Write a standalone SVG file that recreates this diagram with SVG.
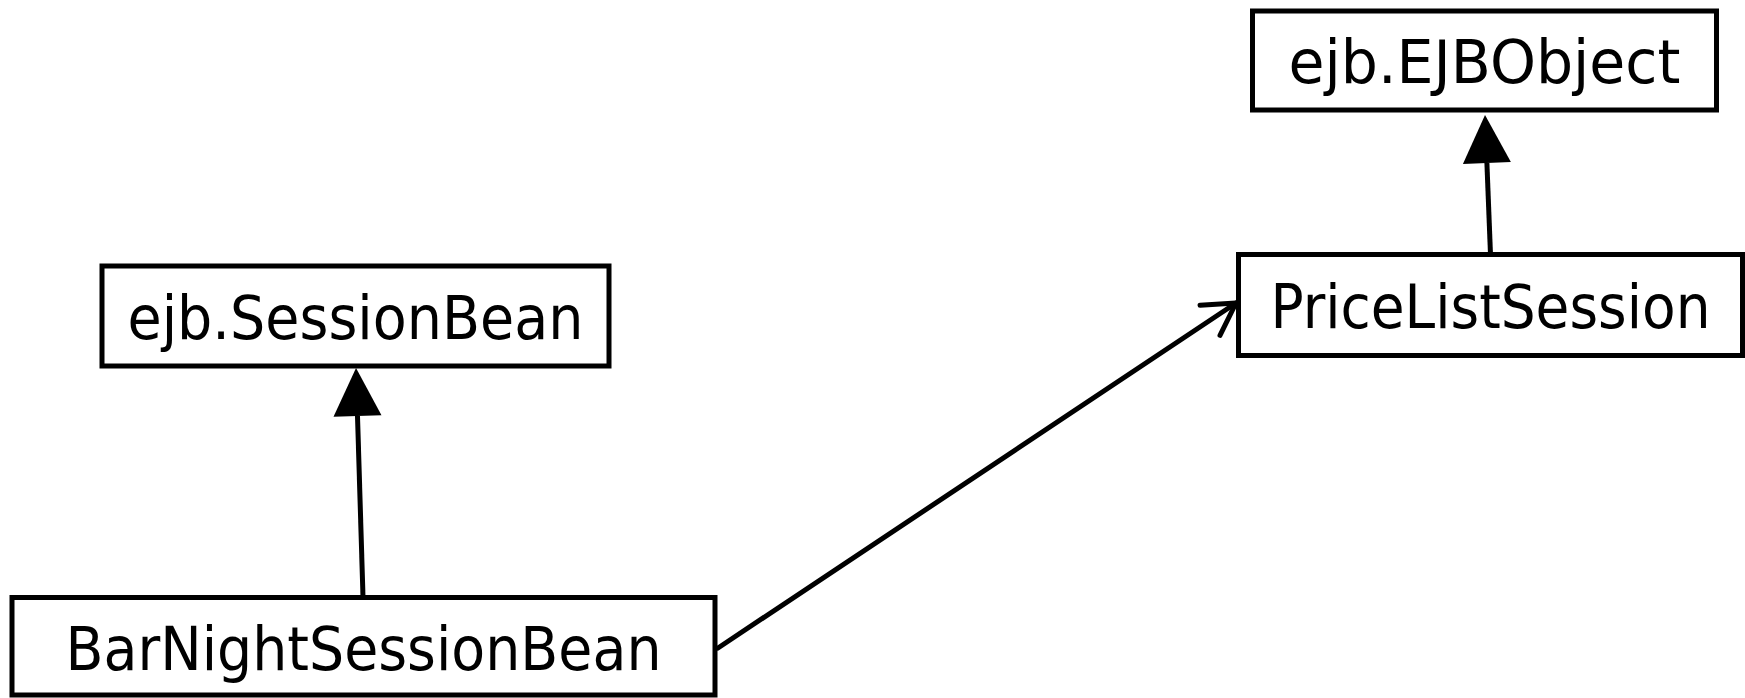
<svg xmlns="http://www.w3.org/2000/svg" width="1745" height="698" viewBox="0 0 1745 698">
  <style>
    .box { fill: #ffffff; stroke: #000000; stroke-width: 5; }
    .lbl { font-family: "DejaVu Sans", Verdana, sans-serif; font-size: 61px; fill: #000000; text-anchor: middle; }
    .edge { fill: none; stroke: #000000; stroke-width: 5; }
  </style>
  <defs>
    <marker id="gen" markerUnits="userSpaceOnUse" markerWidth="50" markerHeight="50" viewBox="0 -25 50 50" refX="0" refY="0" orient="auto" overflow="visible">
      <path d="M0,-24 L48,0 L0,24 Z" fill="#000000"/>
    </marker>
    <marker id="open" markerUnits="userSpaceOnUse" markerWidth="44" markerHeight="44" viewBox="-36 -22 40 44" refX="0" refY="0" orient="auto" overflow="visible">
      <path d="M-31.2,-18 L0,0 L-31.2,18" fill="none" stroke="#000000" stroke-width="5" stroke-linecap="round" stroke-linejoin="round"/>
    </marker>
  </defs>
  <rect x="0" y="0" width="1745" height="698" fill="#ffffff"/>

  <g id="connectors">
    <path class="edge" d="M363,597 L357.5,416" marker-end="url(#gen)"/>
    <path class="edge" d="M1490.5,254.5 L1486.9,163" marker-end="url(#gen)"/>
    <path class="edge" d="M718,648 L1236,303" stroke-linecap="round" marker-end="url(#open)"/>
  </g>

  <g id="node-ejbobject">
    <rect class="box" x="1252.5" y="11" width="464" height="99"/>
    <text class="lbl" x="1484.5" y="83" textLength="392" lengthAdjust="spacingAndGlyphs">ejb.EJBObject</text>
  </g>
  <g id="node-pricelistsession">
    <rect class="box" x="1238.5" y="254.5" width="504" height="101"/>
    <text class="lbl" x="1490.5" y="327.5" textLength="440" lengthAdjust="spacingAndGlyphs">PriceListSession</text>
  </g>
  <g id="node-sessionbean">
    <rect class="box" x="102" y="266" width="507" height="100"/>
    <text class="lbl" x="355.5" y="338.5" textLength="456" lengthAdjust="spacingAndGlyphs">ejb.SessionBean</text>
  </g>
  <g id="node-barnightsessionbean">
    <rect class="box" x="12" y="597.5" width="703" height="97.5"/>
    <text class="lbl" x="363.5" y="670" textLength="596" lengthAdjust="spacingAndGlyphs">BarNightSessionBean</text>
  </g>
</svg>
